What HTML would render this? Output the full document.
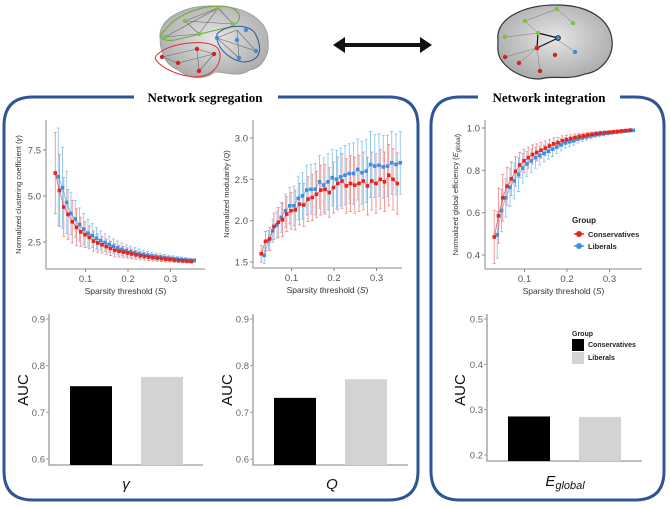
<!DOCTYPE html>
<html><head><meta charset="utf-8"><style>
html,body{margin:0;padding:0;background:#fff;}
svg{display:block;font-family:"Liberation Sans",sans-serif;}
</style></head><body>
<svg id="fig" width="670" height="507" viewBox="0 0 670 507">
<defs>
<radialGradient id="brainG" cx="50%" cy="45%" r="60%"><stop offset="0" stop-color="#e6e6e6"/><stop offset="1" stop-color="#a8a8a8"/></radialGradient>
</defs>
<g>
<path d="M160,38 C158,18 185,5 215,6 C245,6 268,20 268,40 C270,55 262,68 250,70 C240,78 225,72 215,72 C205,80 190,80 178,70 C165,65 160,52 160,38Z" fill="url(#brainG)" stroke="#999" stroke-width="0.8"/>
<g stroke="#666" stroke-width="0.6"><line x1="185" y1="21" x2="218" y2="8"/><line x1="185" y1="21" x2="233" y2="24"/><line x1="218" y1="8" x2="233" y2="24"/><line x1="185" y1="21" x2="199" y2="34"/><line x1="165" y1="37" x2="199" y2="34"/><line x1="218" y1="8" x2="199" y2="34"/><line x1="218" y1="8" x2="165" y2="37"/>
<line x1="217" y1="38" x2="237" y2="30"/><line x1="237" y1="30" x2="256" y2="51"/><line x1="217" y1="38" x2="256" y2="51"/><line x1="237" y1="30" x2="239" y2="58"/><line x1="217" y1="38" x2="239" y2="58"/>
<line x1="162" y1="57" x2="197" y2="49"/><line x1="197" y1="49" x2="214" y2="54"/><line x1="162" y1="57" x2="178" y2="63"/><line x1="197" y1="49" x2="199" y2="71"/><line x1="214" y1="54" x2="199" y2="71"/><line x1="178" y1="63" x2="214" y2="54"/></g>
<path d="M165,30 C180,10 215,2 232,8 C245,14 240,26 225,28 L175,40 C160,42 158,36 165,30Z" fill="none" stroke="#6aaa3a" stroke-width="1"/>
<path d="M217,34 C225,25 250,22 256,35 C262,48 262,60 245,62 C232,62 215,48 217,34Z" fill="none" stroke="#2f5597" stroke-width="1"/>
<path d="M155,58 C160,45 200,38 215,46 C225,52 220,72 203,76 C190,80 160,70 155,58Z" fill="none" stroke="#e03030" stroke-width="1"/>
<g fill="#7cc242"><circle cx="218" cy="8" r="2.2"/><circle cx="185" cy="21" r="2.2"/><circle cx="233" cy="24" r="2.2"/><circle cx="199" cy="34" r="2.2"/><circle cx="165" cy="37" r="2.2"/></g>
<g fill="#3a8fd8"><circle cx="246" cy="30" r="2.2"/><circle cx="217" cy="38" r="2.2"/><circle cx="237" cy="40" r="2.2"/><circle cx="256" cy="51" r="2.2"/><circle cx="239" cy="58" r="2.2"/></g>
<g fill="#d42020"><circle cx="197" cy="49" r="2.2"/><circle cx="214" cy="54" r="2.2"/><circle cx="162" cy="57" r="2.2"/><circle cx="178" cy="63" r="2.2"/><circle cx="199" cy="71" r="2.2"/></g>
</g>
<g>
<path d="M498,40 C495,18 525,4 560,5 C590,6 610,20 612,40 C614,58 600,72 585,74 C570,80 555,76 545,78 C530,82 508,72 500,58 C497,52 498,46 498,40Z" fill="url(#brainG)" stroke="#333" stroke-width="1.2"/>
<g stroke="#777" stroke-width="0.5"><line x1="525" y1="21" x2="557" y2="9"/><line x1="557" y1="9" x2="573" y2="23"/><line x1="505" y1="37" x2="538" y2="33"/><line x1="505" y1="57" x2="537" y2="48"/><line x1="519" y1="63" x2="537" y2="48"/><line x1="537" y1="48" x2="540" y2="71"/><line x1="555" y1="38" x2="575" y2="52"/><line x1="525" y1="21" x2="538" y2="33"/></g>
<g stroke="#111" stroke-width="1.2"><line x1="538" y1="33" x2="558" y2="38"/><line x1="538" y1="33" x2="537" y2="48"/><line x1="537" y1="48" x2="558" y2="38"/></g>
<g fill="#7cc242"><circle cx="557" cy="9" r="2.2"/><circle cx="525" cy="21" r="2.2"/><circle cx="573" cy="23" r="2.2"/><circle cx="538" cy="33" r="2.2"/><circle cx="505" cy="37" r="2.2"/></g>
<g fill="#3a8fd8"><circle cx="558" cy="38" r="2.4" stroke="#111" stroke-width="0.8"/><circle cx="575" cy="52" r="2.2"/></g>
<g fill="#d42020"><circle cx="537" cy="48" r="2.4"/><circle cx="505" cy="57" r="2.2"/><circle cx="519" cy="63" r="2.2"/><circle cx="540" cy="71" r="2.2"/><circle cx="555" cy="55" r="2.2"/></g>
</g>
<g>
<line x1="340" y1="45" x2="425" y2="45" stroke="#111" stroke-width="4"/>
<polygon points="333,45 345,37 345,53" fill="#111"/><polygon points="432,45 420,37 420,53" fill="#111"/>
</g>
<path d="M134,97 L33,97 Q4,97 4,126 L4,471 Q4,500 33,500 L389,500 Q418,500 418,471 L418,126 Q418,97 389,97 L278,97" fill="none" stroke="#2f5597" stroke-width="3"/>
<text x="205" y="102" text-anchor="middle" font-family="'Liberation Serif',serif" font-weight="bold" font-size="13">Network segregation</text>
<path d="M478,97 L460,97 Q431,97 431,126 L431,471 Q431,500 460,500 L635,500 Q664,500 664,471 L664,126 Q664,97 635,97 L620,97" fill="none" stroke="#2f5597" stroke-width="3"/>
<text x="549" y="102" text-anchor="middle" font-family="'Liberation Serif',serif" font-weight="bold" font-size="13">Network integration</text>
<g id="charts"></g>
</svg>
<script>
const sparsity = [0.03,0.04,0.05,0.06,0.07,0.08,0.09,0.10,0.11,0.12,0.13,0.14,0.15,0.16,0.17,0.18,0.19,0.20,0.21,0.22,0.23,0.24,0.25,0.26,0.27,0.28,0.29,0.30,0.31,0.32,0.33,0.34,0.35];
const gammaCons = [6.25,5.3,4.4,4.0,3.6,3.3,3.05,2.9,2.75,2.55,2.45,2.35,2.25,2.15,2.05,2.0,1.95,1.9,1.85,1.8,1.75,1.72,1.68,1.65,1.62,1.6,1.57,1.55,1.52,1.5,1.48,1.46,1.45];
const gammaLib = [6.05,5.45,4.65,4.05,3.75,3.45,3.2,2.98,2.85,2.7,2.58,2.47,2.37,2.27,2.18,2.1,2.03,1.97,1.92,1.87,1.82,1.78,1.74,1.71,1.68,1.65,1.62,1.6,1.57,1.55,1.53,1.51,1.5];
const gammaConsErr = [2.2,1.95,1.6,1.35,1.15,1.0,0.8,0.7,0.62,0.55,0.5,0.45,0.42,0.38,0.35,0.32,0.3,0.28,0.26,0.24,0.22,0.2,0.19,0.18,0.17,0.16,0.15,0.14,0.13,0.12,0.11,0.1,0.1];
const gammaLibErr = [2.65,2.2,1.7,1.15,1.0,0.9,0.85,0.75,0.65,0.58,0.52,0.48,0.44,0.4,0.37,0.34,0.31,0.29,0.27,0.25,0.23,0.21,0.2,0.19,0.18,0.17,0.16,0.15,0.14,0.13,0.12,0.11,0.1];
const qCons = [1.6,1.75,1.78,1.93,1.98,2.01,2.08,2.12,2.13,2.2,2.19,2.26,2.28,2.32,2.37,2.38,2.34,2.4,2.45,2.48,2.42,2.45,2.43,2.45,2.48,2.42,2.48,2.45,2.5,2.47,2.55,2.5,2.45];
const qLib = [1.58,1.76,1.88,1.95,2.04,2.12,2.18,2.18,2.27,2.3,2.37,2.38,2.38,2.47,2.43,2.47,2.52,2.5,2.53,2.55,2.57,2.57,2.62,2.58,2.6,2.68,2.66,2.67,2.65,2.66,2.7,2.68,2.7];
const qConsErr = [0.1,0.12,0.14,0.16,0.18,0.2,0.21,0.22,0.24,0.25,0.26,0.27,0.28,0.28,0.3,0.3,0.3,0.31,0.32,0.33,0.33,0.34,0.34,0.34,0.35,0.35,0.35,0.36,0.36,0.36,0.37,0.37,0.37];
const qLibErr = [0.1,0.12,0.14,0.16,0.18,0.2,0.22,0.24,0.26,0.28,0.3,0.3,0.31,0.32,0.33,0.34,0.34,0.35,0.35,0.36,0.36,0.37,0.37,0.38,0.38,0.4,0.38,0.38,0.38,0.37,0.38,0.37,0.38];
const eCons = [0.485,0.585,0.67,0.725,0.76,0.795,0.825,0.845,0.86,0.875,0.885,0.895,0.905,0.915,0.925,0.93,0.94,0.945,0.95,0.955,0.96,0.963,0.967,0.97,0.973,0.976,0.978,0.98,0.982,0.984,0.986,0.988,0.99];
const eLib = [0.495,0.61,0.67,0.72,0.75,0.78,0.81,0.83,0.845,0.86,0.87,0.88,0.89,0.9,0.91,0.92,0.93,0.935,0.94,0.948,0.953,0.958,0.963,0.967,0.97,0.973,0.976,0.978,0.98,0.983,0.985,0.987,0.989];
const eConsErr = [0.125,0.13,0.11,0.09,0.08,0.07,0.06,0.055,0.05,0.045,0.04,0.037,0.034,0.031,0.028,0.025,0.023,0.021,0.019,0.017,0.015,0.013,0.012,0.011,0.01,0.009,0.008,0.007,0.006,0.005,0.005,0.004,0.004];
const eLibErr = [0.11,0.1,0.09,0.09,0.085,0.08,0.07,0.06,0.055,0.05,0.045,0.04,0.037,0.034,0.031,0.028,0.025,0.023,0.021,0.019,0.017,0.015,0.013,0.012,0.011,0.01,0.009,0.008,0.007,0.006,0.005,0.005,0.004];
const xTicks = [0.1,0.2,0.3];
const gammaTicks = [2.5,5.0,7.5];
const qTicks = [1.5,2.0,2.5,3.0];
const eTicks = [0.4,0.6,0.8,1.0];
const barGroups = ["Conservatives","Liberals"];
const aucGamma = [0.756,0.776];
const aucQ = [0.731,0.771];
const aucE = [0.285,0.284];
const aucTicksSeg = [0.6,0.7,0.8,0.9];
const aucTicksInt = [0.2,0.3,0.4,0.5];

const NS="http://www.w3.org/2000/svg";
const root=document.getElementById('charts');
function mk(tag,attrs,parent,text){const e=document.createElementNS(NS,tag);for(const k in attrs)e.setAttribute(k,attrs[k]);if(text!==undefined)e.textContent=text;(parent||root).appendChild(e);return e;}
function lin(d0,d1,r0,r1){return v=>r0+(v-d0)*(r1-r0)/(d1-d0);}

function linePlot(cfg){
  const g=mk('g',{});
  
  
  const xs=lin(0,0.1,cfg.x0,cfg.x0+42.5), ys=cfg.ys;
  const ax=mk('path',{d:`M${cfg.ax},${cfg.top} L${cfg.ax},${cfg.bot} L${cfg.right},${cfg.bot}`,fill:'none',stroke:'#888','stroke-width':1},g);
   
  cfg.yt.forEach(t=>{const y=ys(t);
    mk('line',{x1:cfg.ax-3,x2:cfg.ax,y1:y,y2:y,stroke:'#888'},g);
    const tx=mk('text',{x:cfg.ax-5,y:y+3.5,'text-anchor':'end','font-size':9.5,fill:'#555'},g,t.toFixed(1));
     });
  xTicks.forEach(t=>{const x=xs(t);
    mk('line',{x1:x,x2:x,y1:cfg.bot,y2:cfg.bot+3,stroke:'#888'},g);
    const tx=mk('text',{x:x,y:cfg.bot+13,'text-anchor':'middle','font-size':9.5,fill:'#555'},g,String(t));
     });
  const xt=mk('text',{x:(cfg.ax+cfg.right)/2,y:cfg.bot+25,'text-anchor':'middle','font-size':8.5,fill:'#333'},g);
  xt.innerHTML='Sparsity threshold (<tspan font-style="italic">S</tspan>)';
   
  const yc=(cfg.top+cfg.bot)/2;
  const yt=mk('text',{x:cfg.ylx,y:yc,'text-anchor':'middle','font-size':7.5,fill:'#333',transform:`rotate(-90 ${cfg.ylx} ${yc})`},g);
  yt.innerHTML=cfg.ylab;
   
  const series=[[cfg.lib,cfg.libErr,'#8cc8ee','#3d8fe0',2.5,'liberals'],[cfg.cons,cfg.consErr,'#f09090','#e8231e',-0.5,'conservatives']];
  series.forEach(([vals,errs,ec,pc,off,nm])=>{
    const sg=mk('g',{},g);
     
    vals.forEach((v,i)=>{const x=xs(sparsity[i])+off;const y1=ys(v-errs[i]),y2=ys(v+errs[i]);
      const eb=mk('path',{d:`M${x},${y1} L${x},${y2} M${x-1.5},${y1} L${x+1.5},${y1} M${x-1.5},${y2} L${x+1.5},${y2}`,stroke:ec,'stroke-width':0.9,fill:'none'},sg);
       });
  });
  series.forEach(([vals,errs,ec,pc,off,nm])=>{
    const pts=vals.map((v,i)=>`${xs(sparsity[i])+off},${ys(v)}`).join(' ');
    const pl=mk('polyline',{points:pts,fill:'none',stroke:pc,'stroke-width':0.8,opacity:0.7},g);
     
    vals.forEach((v,i)=>{const c=mk('rect',{x:xs(sparsity[i])+off-1.8,y:ys(v)-1.8,width:3.6,height:3.6,fill:pc},g);
       });
  });
}
linePlot({name:'clustering-chart',x0:43,ax:46,right:205,top:120,bot:269,ys:lin(2.5,7.5,242,150),yt:gammaTicks,cons:gammaCons,lib:gammaLib,consErr:gammaConsErr,libErr:gammaLibErr,ylx:21,ylab:'Normalized clustering coefficient (<tspan font-style="italic">γ</tspan>)'});
linePlot({name:'modularity-chart',x0:249,ax:253,right:402,top:120,bot:268,ys:lin(1.5,3.0,262,138),yt:qTicks,cons:qCons,lib:qLib,consErr:qConsErr,libErr:qLibErr,ylx:229,ylab:'Normalized modularity (<tspan font-style="italic">Q</tspan>)'});
linePlot({name:'efficiency-chart',x0:482,ax:485,right:642,top:120,bot:269,ys:lin(0.4,1.0,255,128),yt:eTicks,cons:eCons,lib:eLib,consErr:eConsErr,libErr:eLibErr,ylx:458,ylab:'Normalized global efficiency (<tspan font-style="italic">E<tspan font-size="6" dy="2">global</tspan></tspan>)'});

(function(){const g=mk('g',{});
  
 mk('text',{x:572,y:223,'font-size':8,'font-weight':'bold',fill:'#222'},g,'Group');
 [['#e8231e',234,'Conservatives'],['#3d8fe0',246,'Liberals']].forEach(([c,y,t])=>{
  const e=mk('g',{},g);  
  mk('line',{x1:574,x2:584,y1:y,y2:y,stroke:c,'stroke-width':1.5},e);
  mk('circle',{cx:579,cy:y,r:3,fill:c},e);
  mk('text',{x:588,y:y+3,'font-size':7.5,'font-weight':'bold',fill:'#222'},e,t);});
})();

function barChart(cfg){
  const g=mk('g',{});
   
  const ys=cfg.ys;
  const ax=mk('path',{d:`M${cfg.ax},${cfg.top} L${cfg.ax},${cfg.bot} L${cfg.right},${cfg.bot}`,fill:'none',stroke:'#999','stroke-width':1.3},g);
   
  cfg.yt.forEach(t=>{const y=ys(t);
    mk('line',{x1:cfg.ax-3,x2:cfg.ax,y1:y,y2:y,stroke:'#999'},g);
    const tx=mk('text',{x:cfg.ax-4,y:y+3.5,'text-anchor':'end','font-size':9.5,fill:'#666'},g,t.toFixed(1));
     });
  const colors=['#000','#d3d3d3'];
  cfg.vals.forEach((v,i)=>{const x=cfg.bx[i];const y=ys(v);
    const r=mk('rect',{x:x,y:y,width:42,height:cfg.bot-y,fill:colors[i]},g);
     });
  const yc=390;
  const yl=mk('text',{x:cfg.ylx,y:yc,'text-anchor':'middle','font-size':15,fill:'#111',transform:`rotate(-90 ${cfg.ylx} ${yc})`},g,'AUC');
   
  const xl=mk('text',{x:cfg.xlx,y:cfg.xly||489,'text-anchor':'middle','font-size':15,'font-style':'italic',fill:'#111'},g);
  xl.innerHTML=cfg.xlab;
   
}
barChart({name:'auc-gamma-chart',ax:49,right:203,top:314,bot:465,ys:lin(0.6,0.9,459,319),yt:aucTicksSeg,vals:aucGamma,bx:[70,141],ylx:28,xlx:126,xlab:'γ'});
barChart({name:'auc-q-chart',ax:253,right:408,top:314,bot:465,ys:lin(0.6,0.9,459,319),yt:aucTicksSeg,vals:aucQ,bx:[274,345],ylx:232,xlab:'Q',xlx:332});
barChart({name:'auc-efficiency-chart',ax:487,right:642,top:314,bot:461,ys:lin(0.2,0.5,455,319),yt:aucTicksInt,vals:aucE,bx:[508,579],ylx:465,xlx:565,xly:486,xlab:'E<tspan font-size="11" dy="3">global</tspan>'});

(function(){const g=mk('g',{});
  
 mk('text',{x:572,y:336,'font-size':7,'font-weight':'bold',fill:'#222'},g,'Group');
 [['#000',339,'Conservatives'],['#d3d3d3',352,'Liberals']].forEach(([c,y,t])=>{
  const e=mk('g',{},g);  
  mk('rect',{x:572,y:y,width:12,height:12,fill:c},e);
  mk('text',{x:588,y:y+8,'font-size':7,'font-weight':'bold',fill:'#222'},e,t);});
})();
</script>
</body></html>
